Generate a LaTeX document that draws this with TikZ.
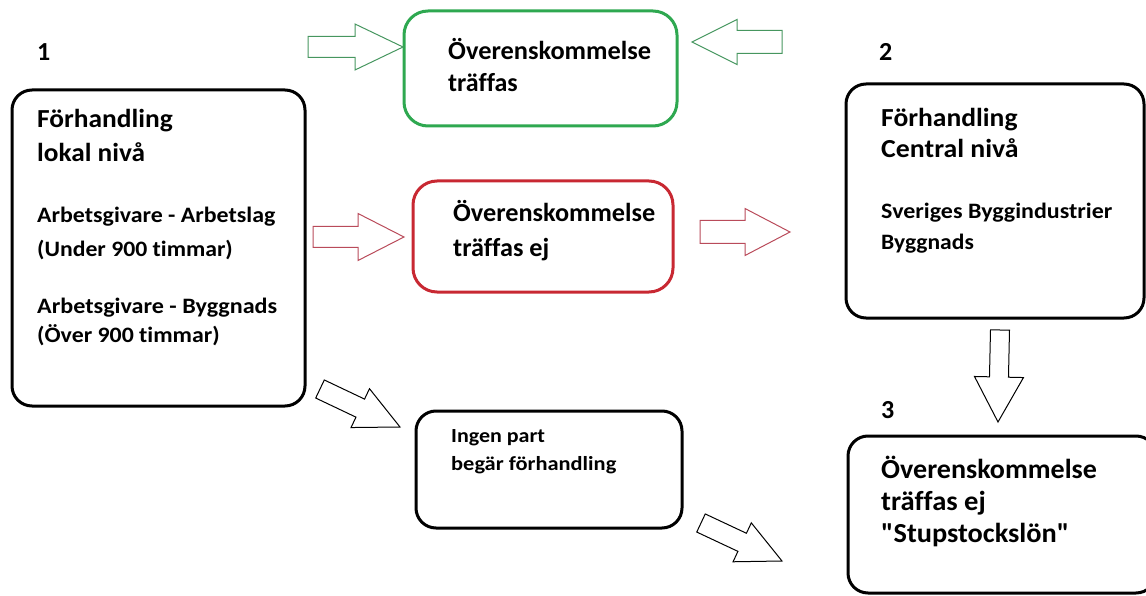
\documentclass[tikz,border=0pt]{standalone}
\usepackage{fontspec}
\usepackage{graphicx}
\setmainfont{Carlito}[Ligatures={TeXOff,NoCommon}]
\usetikzlibrary{calc}
\definecolor{boxgreen}{RGB}{46,168,80}
\definecolor{boxred}{RGB}{200,40,50}
\definecolor{arrgreen}{RGB}{70,150,95}
\definecolor{arrred}{RGB}{185,75,90}
\newcommand\blockarr[6]{%
  \coordinate (neck) at ($(#2)!#5!(#1)$);
  \draw[#6] ($(#1)!#3!90:(#2)$) -- ($(neck)!#3!90:(#2)$) -- ($(neck)!#4!90:(#2)$) -- (#2)
    -- ($(neck)!#4!-90:(#2)$) -- ($(neck)!#3!-90:(#2)$) -- ($(#1)!#3!-90:(#2)$) -- cycle;}
\newcommand\sx[2]{\scalebox{#1}[1]{#2}}
\tikzset{
  blackbox/.style={draw=black, line width=3pt, rounded corners=20pt},
  greenbox/.style={draw=boxgreen, line width=3pt, rounded corners=24pt},
  redbox/.style={draw=boxred, line width=3pt, rounded corners=24pt},
  big/.style={font=\bfseries\fontsize{26}{26}\selectfont, anchor=base west, inner sep=0pt},
  bigger/.style={font=\bfseries\fontsize{27.5}{27.5}\selectfont, anchor=base west, inner sep=0pt},
  small/.style={font=\bfseries\fontsize{22}{22}\selectfont, anchor=base west, inner sep=0pt},
  tiny/.style={font=\bfseries\fontsize{20}{20}\selectfont, anchor=base west, inner sep=0pt},
  garr/.style={draw=arrgreen, line width=1pt, line join=miter},
  rarr/.style={draw=arrred, line width=1pt, line join=miter},
  karr/.style={draw=black, line width=1pt, line join=miter},
}
\begin{document}
\begin{tikzpicture}[x=1pt, y=-1pt]
\useasboundingbox (0,0) rectangle (1146,596);
\clip (0,0) rectangle (1146,596);
% boxes
\draw[blackbox] (12,90) rectangle (305,406);
\draw[greenbox] (404,11) rectangle (677,126);
\draw[redbox] (413,181) rectangle (673,292);
\draw[blackbox] (846,84) rectangle (1144,318);
\draw[blackbox] (416,411) rectangle (682,528);
\draw[blackbox] (848,436) rectangle (1156,593);
% numbers
\node[big] (n1) at (37,61) {1};
\node[big] (n2) at (879,61) {2};
\node[big] (n3) at (881,418) {3};
% box 1 text
\node[big] (t1a) at (37,128) {\sx{1.054}{Förhandling}};
\node[big] (t1b) at (37,162) {\sx{1.05}{lokal nivå}};
\node[small] (t1c) at (37,223) {\sx{1.086}{Arbetsgivare - Arbetslag}};
\node[small] (t1d) at (37,256) {\sx{1.078}{(Under 900 timmar)}};
\node[small] (t1e) at (37,313) {\sx{1.096}{Arbetsgivare - Byggnads}};
\node[small] (t1f) at (37,342) {\sx{1.083}{(Över 900 timmar)}};
% green box text
\node[big] (g1) at (448,60) {\sx{1.015}{Överenskommelse}};
\node[big] (g2) at (448,92) {träffas};
% red box text
\node[big] (r1) at (453,222) {\sx{1.01}{Överenskommelse}};
\node[big] (r2) at (453,256) {\sx{1.01}{träffas ej}};
% box 2 text
\node[big] (c1) at (881,127) {\sx{1.06}{Förhandling}};
\node[big] (c2) at (881,158) {\sx{1.07}{Central nivå}};
\node[small] (c3) at (881,219) {\sx{1.09}{Sveriges Byggindustrier}};
\node[small] (c4) at (881,250) {\sx{1.07}{Byggnads}};
% ingen part
\node[tiny] (i1) at (451,442) {\sx{1.10}{Ingen part}};
\node[tiny] (i2) at (451,470) {\sx{1.12}{begär förhandling}};
% box 3 text
\node[bigger] (s1) at (881,478) {\sx{1.02}{Överenskommelse}};
\node[bigger] (s2) at (881,510) {\sx{1.04}{träffas ej}};
\node[bigger] (s3) at (881,542) {\sx{1.03}{"Stupstockslön"}};
% arrow end points
\coordinate (ga) at (308,47);  \coordinate (gb) at (403,47);
\coordinate (gc) at (782,42);  \coordinate (gd) at (692,42);
\coordinate (ra) at (313,237); \coordinate (rb) at (404,237);
\coordinate (rc) at (700,232); \coordinate (rd) at (790,232);
\coordinate (da) at (1000,330); \coordinate (db) at (998,422);
\coordinate (ka) at (320,389); \coordinate (kb) at (400,427);
\coordinate (kc) at (701,523); \coordinate (kd) at (782,561);
\blockarr{ga}{gb}{10.5pt}{23pt}{48pt}{garr}
\blockarr{gc}{gd}{11.5pt}{22.5pt}{45pt}{garr}
\blockarr{ra}{rb}{10.5pt}{23.5pt}{46pt}{rarr}
\blockarr{rc}{rd}{11.5pt}{23.5pt}{45pt}{rarr}
\blockarr{da}{db}{9.5pt}{24.5pt}{45pt}{karr}
\blockarr{ka}{kb}{10pt}{21.5pt}{44pt}{karr}
\blockarr{kc}{kd}{10pt}{21.5pt}{44pt}{karr}
\end{tikzpicture}
\end{document}
